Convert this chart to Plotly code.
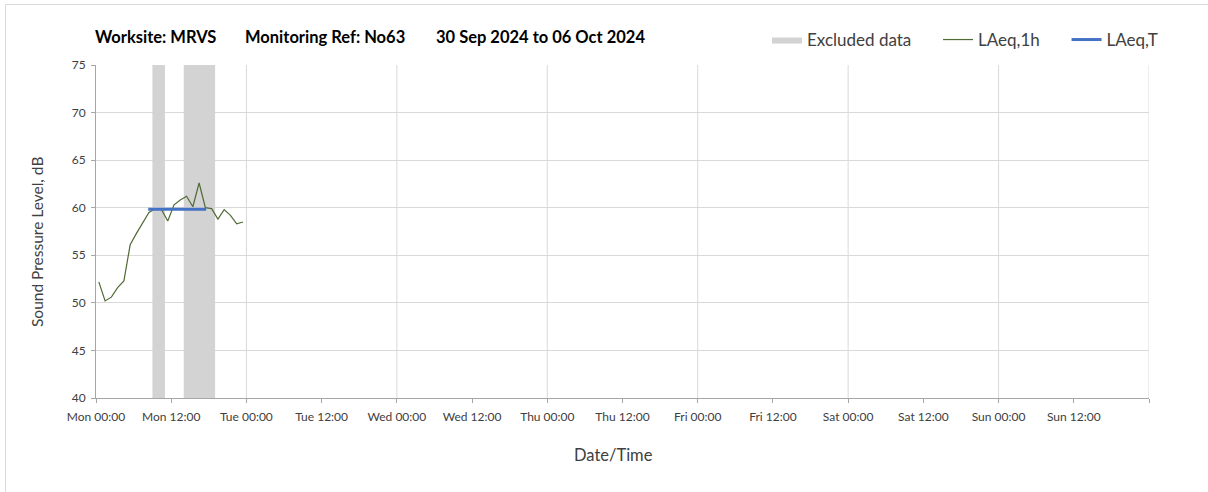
import plotly.graph_objects as go
import pandas as pd

# ---- data ----
start = pd.Timestamp("2024-09-30 00:00")
end = pd.Timestamp("2024-10-07 00:00")

laeq_1h_times = [start + pd.Timedelta(minutes=27 + 60 * h) for h in range(24)]
laeq_1h_values = [52.2, 50.2, 50.6, 51.6, 52.3, 56.1, 57.3, 58.4, 59.5, 59.9,
                  59.8, 58.6, 60.3, 60.8, 61.2, 60.1, 62.6, 60.0, 59.9, 58.8,
                  59.8, 59.2, 58.3, 58.5]

laeq_t_times = ["2024-09-30 08:20", "2024-09-30 17:35"]
laeq_t_values = [59.85, 59.85]

excluded_starts = ["2024-09-30 09:00", "2024-09-30 14:00"]
excluded_ends = ["2024-09-30 11:00", "2024-09-30 19:00"]

tick_labels = ["Mon 00:00", "Mon 12:00", "Tue 00:00", "Tue 12:00", "Wed 00:00",
               "Wed 12:00", "Thu 00:00", "Thu 12:00", "Fri 00:00", "Fri 12:00",
               "Sat 00:00", "Sat 12:00", "Sun 00:00", "Sun 12:00", ""]

series_names = ["Excluded data", "LAeq,1h", "LAeq,T"]
title_parts = ["Worksite: MRVS", "Monitoring Ref: No63", "30 Sep 2024 to 06 Oct 2024"]
x_title = "Date/Time"
y_title = "Sound Pressure Level, dB"

y_min, y_max = 40, 75

# ---- figure ----
W, H = 1208, 492
L, R, T, B = 96, 59, 65, 94
PW, PH = W - L - R, H - T - B


def px_x(p):
    return (p - L) / PW


def px_y(p):
    return (H - B - p) / PH


FONT = "Lato, Open Sans, sans-serif"
NB = "\u00a0"
fig = go.Figure()

ex_x, ex_y = [], []
for s, e in zip(excluded_starts, excluded_ends):
    ex_x += [s, s, e, e, s, None]
    ex_y += [y_min, y_max, y_max, y_min, y_min, None]

pad = NB * 5
fig.add_trace(go.Scatter(x=ex_x, y=ex_y, mode="lines", fill="toself",
                         fillcolor="#d3d3d3", line=dict(width=0, color="#d3d3d3"),
                         name=series_names[0] + pad, hoverinfo="skip"))
fig.add_trace(go.Scatter(x=laeq_1h_times, y=laeq_1h_values, mode="lines",
                         line=dict(color="#4f6b35", width=1.2),
                         name=series_names[1] + pad))
fig.add_trace(go.Scatter(x=laeq_t_times, y=laeq_t_values, mode="lines",
                         line=dict(color="#4472c4", width=3),
                         name=series_names[2]))

tick_vals = [start + pd.Timedelta(hours=12 * i) for i in range(len(tick_labels))]
day_lines = pd.date_range(start + pd.Timedelta(days=1), end, freq="D")

shapes = []
for d in day_lines:
    shapes.append(dict(type="line", xref="x", yref="paper", x0=d, x1=d, y0=0, y1=1,
                       line=dict(color="#d9d9d9", width=1), layer="below"))
# outer frame
shapes.append(dict(type="rect", xref="paper", yref="paper",
                   x0=px_x(5.5), x1=1.2, y0=-0.4, y1=px_y(4.5),
                   line=dict(color="#d9d9d9", width=1), layer="below"))

annotations = []
for txt, xpos in zip(title_parts, [93, 243, 434]):
    annotations.append(dict(text="<b>" + txt + "</b>", xref="paper", yref="paper",
                            x=px_x(xpos), y=px_y(37), xanchor="left", yanchor="middle",
                            showarrow=False,
                            font=dict(family=FONT, size=16.5, color="#000000")))
annotations.append(dict(text=x_title, xref="paper", yref="paper",
                        x=px_x(613), y=px_y(455), xanchor="center", yanchor="middle",
                        showarrow=False,
                        font=dict(family=FONT, size=16.5, color="#404040")))
annotations.append(dict(text=y_title, xref="paper", yref="paper", textangle=-90,
                        x=px_x(37), y=px_y(242), xanchor="center", yanchor="middle",
                        showarrow=False,
                        font=dict(family=FONT, size=15.5, color="#404040")))

fig.update_layout(
    width=W, height=H,
    margin=dict(l=L, r=R, t=T, b=B),
    paper_bgcolor="white", plot_bgcolor="white",
    font=dict(family=FONT, color="#404040"),
    legend=dict(orientation="h", x=px_x(767), xanchor="left",
                y=px_y(40), yanchor="middle",
                font=dict(family=FONT, size=17, color="#404040"),
                bgcolor="rgba(0,0,0,0)"),
    showlegend=True,
    shapes=shapes,
    annotations=annotations,
)

fig.update_xaxes(
    type="date", range=[start, end],
    tickmode="array", tickvals=tick_vals, ticktext=tick_labels,
    showgrid=False, showline=True, linecolor="#a6a6a6", linewidth=1,
    ticks="outside", ticklen=4, tickcolor="#a6a6a6", ticklabelstandoff=4,
    tickfont=dict(family=FONT, size=12, color="#404040"),
    zeroline=False,
)
fig.update_yaxes(
    range=[y_min, y_max], dtick=5, tick0=40,
    showgrid=True, gridcolor="#d9d9d9", gridwidth=1,
    showline=True, linecolor="#a6a6a6", linewidth=1,
    ticks="outside", ticklen=4, tickcolor="#a6a6a6", ticklabelstandoff=3,
    tickfont=dict(family=FONT, size=12, color="#404040"),
    zeroline=False,
)

fig.write_html("out.html", config={"displayModeBar": False},
               post_script="document.body.style.margin='0';")
